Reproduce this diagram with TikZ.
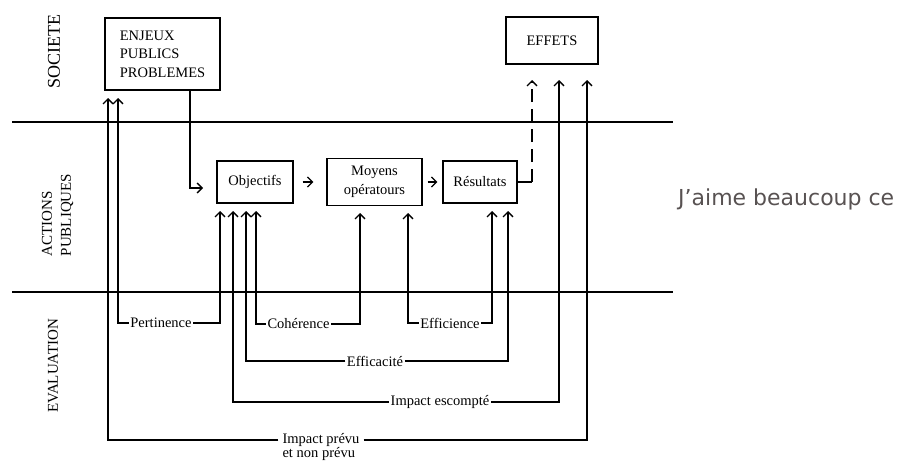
\documentclass[tikz,border=0pt]{standalone}
\usepackage{fontspec}
\setmainfont{Liberation Serif}
\newfontfamily\notefont{DejaVu Sans}
\definecolor{notecol}{RGB}{88,82,82}
\usetikzlibrary{arrows.meta, positioning}

\begin{document}
\begin{tikzpicture}[x=1pt, y=-1pt,
  box/.style={draw, line width=1.3pt, inner sep=0pt, align=center,
              font=\fontsize{14.5}{18.5}\selectfont},
  lbl/.style={inner sep=1.5pt, font=\fontsize{14.5}{17}\selectfont},
  zone/.style={rotate=90, align=left, font=\fontsize{15}{19}\selectfont},
  link/.style={line width=1.3pt},
  arr/.style={link, -{Straight Barb[length=5pt, width=10pt]}}]

  \useasboundingbox (0,0) rectangle (901,463);

  % Zone separators
  \draw[link] (12,122) -- (673,122);
  \draw[link] (12,292) -- (673,292);

  % Zone names
  \node[zone, font=\fontsize{18}{20}\selectfont] (soc) at (54,52) {SOCIETE};
  \node[zone] (act) at (57.5,215) {ACTIONS\\PUBLIQUES};
  \node[zone] (eval) at (53,366) {EVALUATION};

  % Boxes
  \node[box, align=left, minimum width=115, minimum height=72]
    (enj) at (162.5,54) {ENJEUX\\PUBLICS\\PROBLEMES};
  \node[box, minimum width=92, minimum height=47] (eff) at (552,40.5) {EFFETS};
  \node[box, minimum width=76, minimum height=42] (obj) at (255,182) {Objectifs};
  \node[box, minimum width=95, minimum height=47] (moy) at (374.5,182) {Moyens\\opératours};
  \node[box, minimum width=74, minimum height=42] (res) at (480,182) {Résultats};

  % Evaluation labels
  \node[lbl] (pert) at (161,323) {Pertinence};
  \node[lbl] (coh) at (298.5,324) {Cohérence};
  \node[lbl] (effi) at (450,323) {Efficience};
  \node[lbl] (effa) at (375,361) {Efficacité};
  \node[lbl] (esc) at (440,402) {Impact escompté};
  \node[lbl, inner xsep=4pt] (prev) at (321,440) {Impact prévu};
  \node[lbl, inner xsep=4pt, anchor=north west]
    (nprev) at ([yshift=3pt]prev.south west) {et non prévu};

  % Arrow tips
  \coordinate (e1) at (108,98);
  \coordinate (e2) at (118,98);
  \coordinate (eo) at (203,188);
  \coordinate (o1) at (220,211);
  \coordinate (o2) at (233,211);
  \coordinate (o3) at (246,211);
  \coordinate (o4) at (256,211);
  \coordinate (m1) at (360,213);
  \coordinate (m2) at (408,213);
  \coordinate (r1) at (492,211);
  \coordinate (r2) at (508,211);
  \coordinate (rf) at (532,182);
  \coordinate (f1) at (532,80);
  \coordinate (f2) at (559,80);
  \coordinate (f3) at (587,80);

  % Chain of public action
  \draw[arr] ([xshift=27.5pt]enj.south) |- (eo);
  \draw[arr] ([xshift=9pt]obj.east) -- ([xshift=-13pt]moy.west);
  \draw[arr] ([xshift=5pt]moy.east) -- ([xshift=-5pt]res.west);
  \draw[link] (res.east) -- (rf);
  \draw[arr, dash pattern=on 13pt off 7pt] (rf) -- (f1);

  % Evaluation loops
  \draw[arr] (pert.west) -| (e2);
  \draw[arr] (pert.east) -| (o1);
  \draw[arr] (coh.west) -| (o4);
  \draw[arr] (coh.east) -| (m1);
  \draw[arr] (effi.west) -| (m2);
  \draw[arr] (effi.east) -| (r1);
  \draw[arr] (effa.west) -| (o3);
  \draw[arr] (effa.east) -| (r2);
  \draw[arr] (esc.west) -| (o2);
  \draw[arr] (esc.east) -| (f2);
  \draw[arr] (prev.west) -| (e1);
  \draw[arr] (prev.east) -| (f3);

  % Note beside the diagram
  \node[anchor=west, inner sep=0pt, text=notecol,
        font=\notefont\fontsize{22}{24}\selectfont]
    (note) at (678,199) {J’aime beaucoup ce};

\end{tikzpicture}
\end{document}
